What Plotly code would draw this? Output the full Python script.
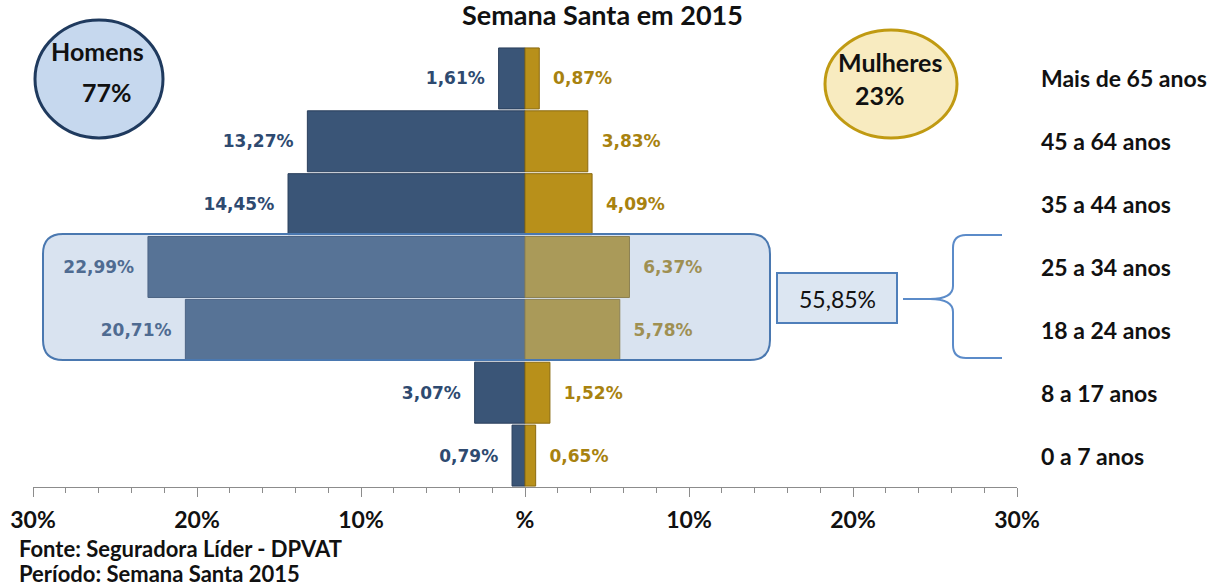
import plotly.graph_objects as go

# ---------------- data ----------------
categories = ["Mais de 65 anos", "45 a 64 anos", "35 a 44 anos", "25 a 34 anos",
              "18 a 24 anos", "8 a 17 anos", "0 a 7 anos"]
homens = [1.61, 13.27, 14.45, 22.99, 20.71, 3.07, 0.79]
mulheres = [0.87, 3.83, 4.09, 6.37, 5.78, 1.52, 0.65]
tick_vals = [-30, -20, -10, 0, 10, 20, 30]
tick_text = ["30%", "20%", "10%", "%", "10%", "20%", "30%"]
total_homens = "77%"
total_mulheres = "23%"
destaque = "55,85%"
title_text = "Semana Santa em 2015"
fonte = "Fonte: Seguradora Líder - DPVAT"
periodo = "Período: Semana Santa 2015"

# ---------------- layout geometry (window pixels) ----------------
W, H = 1222, 586
PL, PR, PT, PB = 33, 1017, 47, 487      # plot area
ML, MR, MT, MB = PL, W - PR, PT, H - PB
PW = PR - PL
PH = PB - PT


def PX(x):
    return (x - PL) / PW


def PY(y):
    return (PB - y) / PH


def fmt(v):
    return f"{v:.2f}".replace(".", ",") + "%"


def path_from(cmds):
    out = []
    for c in cmds:
        if isinstance(c, str):
            out.append(c)
        else:
            out.append(f"{PX(c[0]):.5f},{PY(c[1]):.5f}")
    return " ".join(out)


def rrect(x0, y0, x1, y1, r):
    return path_from([
        "M", (x0 + r, y0), "L", (x1 - r, y0), "Q", (x1, y0), (x1, y0 + r),
        "L", (x1, y1 - r), "Q", (x1, y1), (x1 - r, y1),
        "L", (x0 + r, y1), "Q", (x0, y1), (x0, y1 - r),
        "L", (x0, y0 + r), "Q", (x0, y0), (x0 + r, y0), "Z"])


NB = "\u00a0"
LBL_FONT = "DejaVu Sans"
CAL = "Lato"
INK = "#111111"

fig = go.Figure()
fig.add_trace(go.Bar(
    y=categories, x=[-v for v in homens], orientation="h", name="Homens",
    marker=dict(color="#3A5577", line=dict(color="#2A3F5C", width=1)),
    text=[f"<b>{fmt(v)}</b>{NB*2}" for v in homens],
    textposition="outside", constraintext="none", cliponaxis=False,
    textfont=dict(family=LBL_FONT, size=17, color="#2E4A70"),
    hoverinfo="skip"))
fig.add_trace(go.Bar(
    y=categories, x=mulheres, orientation="h", name="Mulheres",
    marker=dict(color="#B8901A", line=dict(color="#8A6A10", width=1)),
    text=[f"{NB*2}<b>{fmt(v)}</b>" for v in mulheres],
    textposition="outside", constraintext="none", cliponaxis=False,
    textfont=dict(family=LBL_FONT, size=17, color="#A8820F"),
    hoverinfo="skip"))

shapes = []
box_path = rrect(43, 234, 770, 360, 20)
shapes.append(dict(type="path", xref="paper", yref="paper", path=box_path,
                   fillcolor="rgba(144,173,210,0.34)",
                   line=dict(color="#4A78B0", width=2), layer="above"))
# circles
shapes.append(dict(type="circle", xref="paper", yref="paper",
                   x0=PX(35), x1=PX(163), y0=PY(138), y1=PY(20),
                   fillcolor="#C6D8EE", line=dict(color="#1F3A5E", width=3)))
shapes.append(dict(type="circle", xref="paper", yref="paper",
                   x0=PX(825), x1=PX(957), y0=PY(138), y1=PY(30),
                   fillcolor="#F8EBC0", line=dict(color="#C09A12", width=3)))
# 55,85% box
shapes.append(dict(type="rect", xref="paper", yref="paper",
                   x0=PX(777), x1=PX(897), y0=PY(323), y1=PY(273),
                   fillcolor="#DCE6F2", line=dict(color="#4F7FBA", width=2)))
# brace
brace = path_from([
    "M", (1002, 235), "L", (966, 235), "Q", (953, 235), (953, 248),
    "L", (953, 286), "Q", (953, 299), (930, 299), "L", (903, 299),
    "M", (930, 299), "Q", (953, 299), (953, 312),
    "L", (953, 345), "Q", (953, 358), (966, 358), "L", (1002, 358)])
shapes.append(dict(type="path", xref="paper", yref="paper", path=brace,
                   line=dict(color="#5B8BC9", width=2)))


def note(text, x, y, size, bold=True, xanchor="center", yref="paper"):
    return dict(text=f"<b>{text}</b>" if bold else text,
                x=PX(x), y=(PY(y) if yref == "paper" else y),
                xref="paper", yref=yref, xanchor=xanchor, yanchor="middle",
                showarrow=False, font=dict(family=CAL, size=size, color=INK))


ann = [note(title_text, 602, 15, 27)]
for c in categories:
    ann.append(note(c, 1039, c, 23, xanchor="left", yref="y"))
ann.append(note("Homens", 97, 51, 25))
ann.append(note(total_homens, 107, 92, 25))
ann.append(note("Mulheres", 890, 62, 25))
ann.append(note(total_mulheres, 880, 95, 25))
ann.append(note(destaque, 837, 299, 23, bold=False))
ann.append(note(fonte, 17, 548, 22, xanchor="left"))
ann.append(note(periodo, 17, 573, 22, xanchor="left"))

fig.update_layout(
    width=W, height=H, margin=dict(l=ML, r=MR, t=MT, b=MB, autoexpand=False),
    paper_bgcolor="white", plot_bgcolor="white",
    barmode="relative", bargap=0.03, showlegend=False,
    shapes=shapes, annotations=ann,
    xaxis=dict(range=[-30, 30], tickvals=tick_vals, ticktext=tick_text,
               automargin=False,
               showgrid=False, zeroline=False, showline=True, linecolor="#8C8C8C",
               linewidth=1, ticks="outside", ticklen=9, tickcolor="#8C8C8C",
               ticklabelstandoff=3,
               tickfont=dict(family=CAL, size=23, color=INK, weight="bold"),
               minor=dict(dtick=2, ticks="outside", ticklen=5, tickcolor="#8C8C8C")),
    yaxis=dict(categoryorder="array", categoryarray=categories, range=[6.5, -0.5],
               automargin=False,
               showticklabels=False, showgrid=False, zeroline=False, showline=False,
               ticks=""),
)

fig.write_html("out.html", config={"displayModeBar": False},
               post_script="document.body.style.margin='0';document.body.style.padding='0';")
